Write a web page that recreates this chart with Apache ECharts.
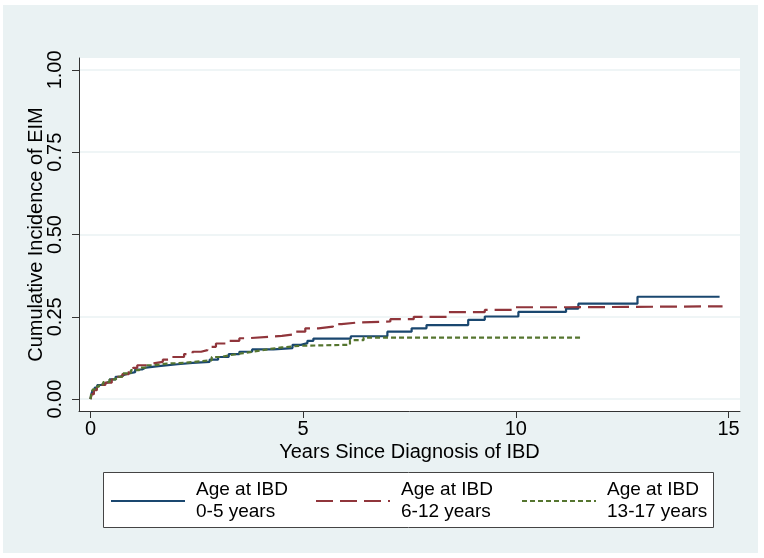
<!DOCTYPE html>
<html>
<head>
<meta charset="utf-8">
<script src="https://cdn.jsdelivr.net/npm/echarts@6/dist/echarts.min.js"></script>
<style>
html,body{margin:0;padding:0;background:#fff;}
#chart{width:764px;height:558px;}
</style>
</head>
<body>
<div id="chart"></div>
<script>
// ---- data (step points: [years, cumulative incidence], value holds until next point) ----
const seriesNames = ["Age at IBD\n0-5 years", "Age at IBD\n6-12 years", "Age at IBD\n13-17 years"];
const xTicks = [0, 5, 10, 15];
const yTicks = [0, 0.25, 0.5, 0.75, 1];

const age0to5 = [
  [0,0],[0.02,0.015],[0.05,0.027],[0.1,0.035],[0.16,0.043],[0.25,0.048],[0.35,0.053],[0.45,0.06],
  [0.59,0.068],[0.7,0.074],[0.8,0.078],[0.9,0.082],[1.05,0.09],[1.21,0.096],[1.3,0.1],[1.6,0.106],
  [2.05,0.11],[2.4,0.113],[2.8,0.12],[3.0,0.128],[3.25,0.137],[3.5,0.144],[3.8,0.151],[4.3,0.155],
  [4.75,0.165],[4.95,0.17],[5.1,0.177],[5.24,0.184],[6.12,0.191],[6.98,0.205],[7.55,0.215],[7.9,0.225],
  [8.88,0.241],[9.27,0.251],[10.06,0.265],[11.18,0.275],[11.47,0.29],[12.86,0.311],[14.79,0.311]
];
const age6to12 = [
  [0,0],[0.03,0.015],[0.08,0.027],[0.15,0.035],[0.25,0.043],[0.35,0.05],[0.5,0.06],[0.6,0.068],
  [0.75,0.076],[0.9,0.088],[1.0,0.095],[1.1,0.103],[1.3,0.108],[1.46,0.113],[1.7,0.12],[1.9,0.128],
  [2.2,0.137],[2.4,0.144],[2.6,0.149],[2.75,0.159],[2.95,0.169],[3.2,0.177],[3.5,0.185],[3.7,0.19],
  [4.3,0.192],[4.5,0.197],[4.8,0.205],[5.05,0.215],[5.36,0.22],[5.7,0.228],[5.9,0.233],[6.3,0.236],
  [7.05,0.243],[7.6,0.25],[8.4,0.264],[9.27,0.271],[10.0,0.279],[11.2,0.282],[14.86,0.282]
];
const age13to17 = [
  [0,0],[0.02,0.02],[0.06,0.03],[0.12,0.038],[0.2,0.045],[0.3,0.052],[0.45,0.06],[0.6,0.068],
  [0.75,0.078],[0.95,0.088],[1.15,0.096],[1.3,0.103],[1.5,0.108],[1.8,0.11],[2.2,0.114],[2.5,0.118],
  [2.85,0.128],[3.05,0.134],[3.3,0.14],[3.6,0.146],[3.9,0.152],[4.2,0.157],[4.5,0.162],[4.9,0.165],
  [6.1,0.179],[6.42,0.187],[11.54,0.187]
];

const FONT = '"Liberation Sans", Arial, sans-serif';
const colors = ['#1A476F', '#90353B', '#55752F'];

const chart = echarts.init(document.getElementById('chart'), null, {renderer: 'canvas'});

function mkSeries(name, data, color, type, width) {
  return {
    name: name, type: 'line', step: 'end', data: data, symbol: 'none', showSymbol: false,
    lineStyle: {color: color, width: width, type: type},
    itemStyle: {color: color},
    emphasis: {disabled: true}, animation: false
  };
}

function mkLegend(name, left) {
  return {
    data: [name], left: left, top: 479, orient: 'horizontal',
    itemWidth: 74, itemHeight: 14, selectedMode: false, padding: 0,
    itemStyle: {opacity: 0},
    textStyle: {fontFamily: FONT, fontSize: 19, lineHeight: 22, color: '#000', padding: [0,0,0,6]}
  };
}

chart.setOption({
  animation: false,
  backgroundColor: '#ffffff',
  color: colors,
  graphic: [
    {type: 'rect', z: -10, shape: {x: 3, y: 5, width: 755, height: 548}, style: {fill: '#EAF2F3'}},
    {type: 'rect', z: 1, shape: {x: 103.5, y: 472.5, width: 610, height: 55}, style: {fill: '#ffffff', stroke: '#444', lineWidth: 1}}
  ],
  grid: {left: 79, right: 24, top: 58, bottom: 147, show: true, backgroundColor: '#ffffff', borderWidth: 0},
  xAxis: {
    type: 'value', min: -0.27, max: 15.27,
    name: 'Years Since Diagnosis of IBD', nameLocation: 'middle', nameGap: 31, nameMoveOverlap: false,
    nameTextStyle: {fontFamily: FONT, fontSize: 20, color: '#000'},
    axisLine: {show: true, onZero: false, lineStyle: {color: '#333', width: 1}},
    axisTick: {show: true, length: 7, customValues: xTicks, lineStyle: {color: '#333'}},
    axisLabel: {customValues: xTicks, margin: 8, fontFamily: FONT, fontSize: 20, color: '#000'},
    splitLine: {show: false}
  },
  yAxis: {
    type: 'value', min: -0.036, max: 1.036,
    name: 'Cumulative Incidence of EIM', nameLocation: 'middle', nameGap: 32.5, nameMoveOverlap: false,
    nameTextStyle: {fontFamily: FONT, fontSize: 20, color: '#000'},
    axisLine: {show: true, onZero: false, lineStyle: {color: '#333', width: 1}},
    axisTick: {show: true, length: 7, customValues: yTicks, lineStyle: {color: '#333'}},
    axisLabel: {customValues: yTicks, rotate: 90, margin: 14, fontFamily: FONT, fontSize: 20, color: '#000',
      formatter: v => v.toFixed(2)},
    splitLine: {show: true, lineStyle: {color: '#EAF2F3', width: 1.5}}
  },
  legend: [mkLegend(seriesNames[0], 110), mkLegend(seriesNames[1], 315), mkLegend(seriesNames[2], 521)],
  series: [
    mkSeries(seriesNames[0], age0to5, colors[0], 'solid', 2.2),
    mkSeries(seriesNames[1], age6to12, colors[1], [17, 7], 2.2),
    mkSeries(seriesNames[2], age13to17, colors[2], [5, 3], 2.2)
  ]
});
</script>
</body>
</html>
